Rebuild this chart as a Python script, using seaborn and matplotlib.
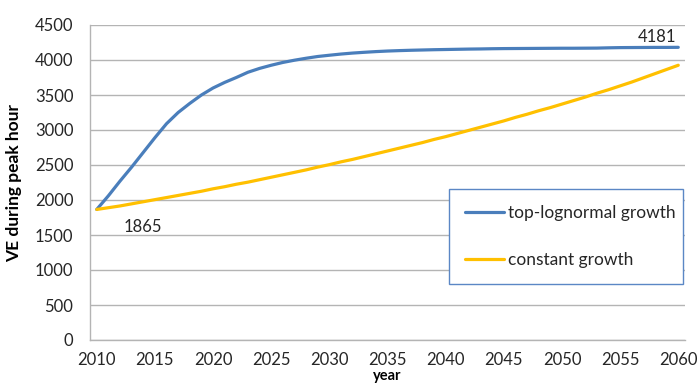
import numpy as np
import pandas as pd
import matplotlib
matplotlib.use("Agg")
import matplotlib.pyplot as plt
import seaborn as sns

years = list(range(2010, 2061))

lognormal_growth = [
    1865, 2060, 2270, 2470, 2680, 2890, 3090, 3250, 3380, 3500,
    3600, 3680, 3750, 3825, 3880, 3925, 3965, 3997, 4025, 4050,
    4068, 4085, 4099, 4110, 4120, 4128, 4134, 4139, 4143, 4147,
    4150, 4153, 4156, 4158, 4161, 4163, 4164, 4165, 4166, 4167,
    4168, 4168, 4169, 4170, 4174, 4177, 4178, 4179, 4180, 4180,
    4181,
]

constant_growth = [
    1865, 1890, 1915, 1945, 1975, 2005, 2035, 2065, 2095, 2125,
    2160, 2190, 2225, 2255, 2290, 2325, 2360, 2395, 2430, 2470,
    2505, 2545, 2580, 2620, 2660, 2700, 2740, 2780, 2820, 2865,
    2905, 2950, 2995, 3040, 3085, 3130, 3180, 3225, 3275, 3320,
    3370, 3420, 3470, 3525, 3575, 3630, 3685, 3745, 3805, 3865,
    3925,
]

series_names = ["top-lognormal growth", "constant growth"]
series_colors = ["#4a7ebb", "#ffc000"]

x_ticks = list(range(2010, 2061, 5))
y_ticks = list(range(0, 4501, 500))

df = pd.DataFrame({
    "year": years * 2,
    "VE": lognormal_growth + constant_growth,
    "series": [series_names[0]] * len(years) + [series_names[1]] * len(years),
})

sns.set_theme(style="white")
plt.rcParams["font.family"] = ["Lato", "DejaVu Sans"]

fig = plt.figure(figsize=(7.0, 3.83), dpi=100)
ax = fig.add_axes([90 / 700, 1 - 340 / 383, 595 / 700, 315 / 383])

sns.lineplot(data=df, x="year", y="VE", hue="series", hue_order=series_names,
             palette=series_colors, linewidth=2.3, ax=ax, legend=True)

ax.set_xlim(2009.42, 2060.58)
ax.set_ylim(0, 4500)
ax.set_xticks(x_ticks)
ax.set_yticks(y_ticks)
ax.tick_params(axis="both", length=0, labelsize=12, labelcolor="#262626")
ax.tick_params(axis="x", pad=8.5)
ax.tick_params(axis="y", pad=12)

ax.grid(axis="y", color="#b4b4b4", linewidth=1.0)
ax.grid(axis="x", visible=False)
ax.set_axisbelow(True)
for side in ["top", "right"]:
    ax.spines[side].set_visible(False)
for side in ["left", "bottom"]:
    ax.spines[side].set_color("#b4b4b4")
    ax.spines[side].set_linewidth(1.0)

ax.set_ylabel("VE during peak hour", fontsize=12.5, fontweight="bold", color="#000000", labelpad=9)
ax.set_xlabel("year", fontsize=10.5, fontweight="bold", color="#000000")
ax.xaxis.set_label_coords(0.5, -0.092)

# value labels at both ends of the curves
ax.annotate(f"{lognormal_growth[-1]}", xy=(years[-1], lognormal_growth[-1]),
            xytext=(-2, 10), textcoords="offset pixels", ha="right", va="center",
            fontsize=12, color="#262626")
ax.annotate(f"{lognormal_growth[0]}", xy=(years[0], lognormal_growth[0]),
            xytext=(46, -18), textcoords="offset pixels", ha="center", va="center",
            fontsize=12, color="#262626")

leg = ax.legend(loc="lower left", bbox_to_anchor=(0.604, 0.177, 0.393, 0.311),
                mode="expand", fontsize=12.5, frameon=True, fancybox=False,
                borderpad=0.92, labelspacing=1.8, handlelength=2.2,
                handletextpad=0.23, borderaxespad=0)
leg.get_frame().set_edgecolor("#5b87c5")
leg.get_frame().set_linewidth(1.0)
leg.get_frame().set_facecolor("white")
leg.get_frame().set_alpha(1.0)
for txt in leg.get_texts():
    txt.set_color("#262626")

fig.savefig("out.png", dpi=100)
